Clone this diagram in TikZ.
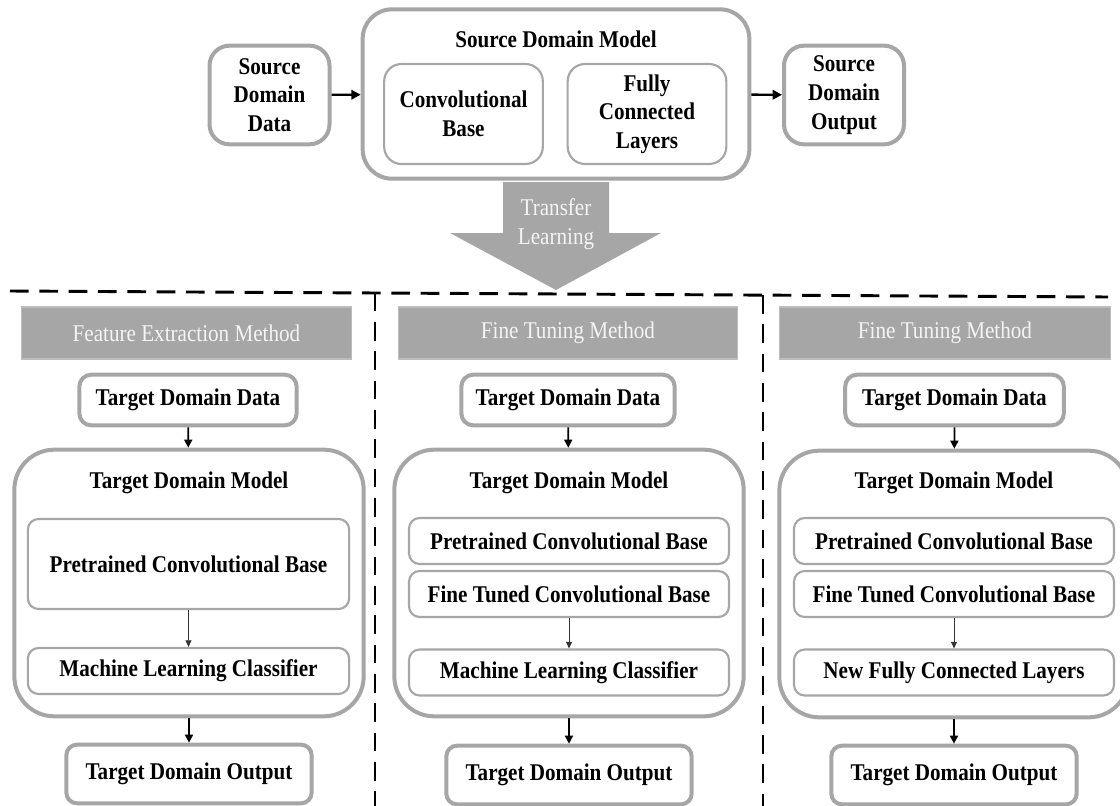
\documentclass[tikz,border=0pt]{standalone}
\usepackage{fontspec}
\setmainfont{Liberation Serif}[FakeStretch=0.88]
\usepackage{xcolor}
\usetikzlibrary{arrows.meta}

\definecolor{boxgray}{HTML}{A6A6A6}
\definecolor{headline}{HTML}{BDBDBD}
\definecolor{headtext}{HTML}{F4F4F4}

\tikzset{
  outbox/.style={draw=boxgray, line width=3pt, fill=white, rounded corners=#1, align=center, inner sep=2pt},
  outbox/.default=9pt,
  inbox/.style={draw=boxgray, line width=1.6pt, fill=white, rounded corners=8pt, align=center, inner sep=2pt},
  header/.style={fill=boxgray, draw=headline, line width=0.8pt, text=headtext, font=\fontsize{18}{21}\selectfont, minimum height=39pt},
  toparr/.style={-{Triangle[length=7pt,width=7pt]}, line width=1.8pt},
  flowarr/.style={-{Triangle[length=6pt,width=6pt]}, line width=1.3pt},
  subarr/.style={-{Triangle[length=5pt,width=4.5pt]}, line width=0.6pt, black!80},
  sepline/.style={line width=2.2pt, dash pattern=on 14pt off 8pt}
}

\begin{document}
\begin{tikzpicture}[x=0.75pt, y=-0.75pt, font=\fontsize{18}{21.5}\selectfont\bfseries]
    \useasboundingbox (0,0) rectangle (1120,806);

    % source side
    \node[outbox=15pt, minimum width=90pt, minimum height=74pt] (sdata) at (269.5,95) {Source\\Domain\\Data};
    \node[outbox=22pt, minimum width=290pt, minimum height=127pt] (smodel) at (556,94) {};
    \node (smtitle) at (556,39) {Source Domain Model};
    \node[inbox, rounded corners=13pt, minimum width=119pt, minimum height=75pt] (conv) at (463.5,114) {Convolutional\\Base};
    \node[inbox, rounded corners=13pt, minimum width=119pt, minimum height=75pt] (fc) at (647,114) {Fully\\Connected\\Layers};
    \node[outbox=15pt, minimum width=90pt, minimum height=74pt] (sout) at (844,95) {Source\\Domain\\Output};

    \draw[toparr] (sdata) -- (smodel);
    \draw[toparr] (smodel) -- (sout);

    % transfer arrow
    \fill[boxgray] (503,182) -- (609,182) -- (609,233) -- (661,233) -- (556,290)
        -- (450,233) -- (503,233) -- cycle;
    \node[font=\fontsize{18}{21.5}\selectfont, text=headtext, align=center] (tlearn) at (556,224) {Transfer\\Learning};

    % separators
    \draw[sepline] (10,291) -- (1108,297);
    \draw[sepline] (375,292.5) -- (375,806);
    \draw[sepline] (763,295) -- (763,806);

    % feature extraction
    \node[header, minimum width=247pt] (head1) at (186.5,333) {Feature Extraction Method};
    \node[outbox=9pt, minimum width=163pt, minimum height=38pt] (tdd1) at (188,400) {Target Domain Data};
    \node[outbox=30pt, minimum width=262pt, minimum height=200pt] (tdm1) at (189,583) {};
    \node (title1) at (189,483) {Target Domain Model};
    \node[inbox, minimum width=241pt, minimum height=67.5pt] (pcb1) at (188.5,564) {Pretrained Convolutional Base};
    \node[inbox, minimum width=241pt, minimum height=34.5pt] (mlc1) at (188.5,671) {Machine Learning Classifier};
    \node[outbox=8pt, minimum width=184pt, minimum height=44pt] (tdo1) at (189,774) {Target Domain Output};

    \draw[flowarr] (tdd1) -- (tdm1);
    \draw[subarr] (pcb1) -- (mlc1);
    \draw[flowarr] (tdm1) -- (tdo1);

    % fine tuning, classifier
    \node[header, minimum width=254pt] (head2) at (568,333) {Fine Tuning Method};
    \node[outbox=9pt, minimum width=160pt, minimum height=38pt] (tdd2) at (568,400) {Target Domain Data};
    \node[outbox=30pt, minimum width=262pt, minimum height=200pt] (tdm2) at (569,583) {};
    \node (title2) at (569,483) {Target Domain Model};
    \node[inbox, minimum width=240pt, minimum height=34.5pt] (pcb2) at (569,541) {Pretrained Convolutional Base};
    \node[inbox, minimum width=240pt, minimum height=34.5pt] (ftcb2) at (569,594) {Fine Tuned Convolutional Base};
    \node[inbox, minimum width=240pt, minimum height=34.5pt] (mlc2) at (569,672.5) {Machine Learning Classifier};
    \node[outbox=8pt, minimum width=184pt, minimum height=44pt] (tdo2) at (569,775) {Target Domain Output};

    \draw[flowarr] (tdd2) -- (tdm2);
    \draw[subarr] (ftcb2) -- (mlc2);
    \draw[flowarr] (tdm2) -- (tdo2);

    % fine tuning, new layers
    \node[header, minimum width=248pt] (head3) at (945,333) {Fine Tuning Method};
    \node[outbox=9pt, minimum width=164pt, minimum height=38pt] (tdd3) at (954.5,400) {Target Domain Data};
    \node[outbox=30pt, minimum width=262pt, minimum height=200pt] (tdm3) at (954,584) {};
    \node (title3) at (954,483) {Target Domain Model};
    \node[inbox, minimum width=240pt, minimum height=34.5pt] (pcb3) at (954,541) {Pretrained Convolutional Base};
    \node[inbox, minimum width=240pt, minimum height=34.5pt] (ftcb3) at (954,594) {Fine Tuned Convolutional Base};
    \node[inbox, minimum width=240pt, minimum height=34.5pt] (nfc3) at (954,672.5) {New Fully Connected Layers};
    \node[outbox=8pt, minimum width=184pt, minimum height=44pt] (tdo3) at (954,775) {Target Domain Output};

    \draw[flowarr] (tdd3) -- (tdm3);
    \draw[subarr] (ftcb3) -- (nfc3);
    \draw[flowarr] (tdm3) -- (tdo3);
\end{tikzpicture}
\end{document}
